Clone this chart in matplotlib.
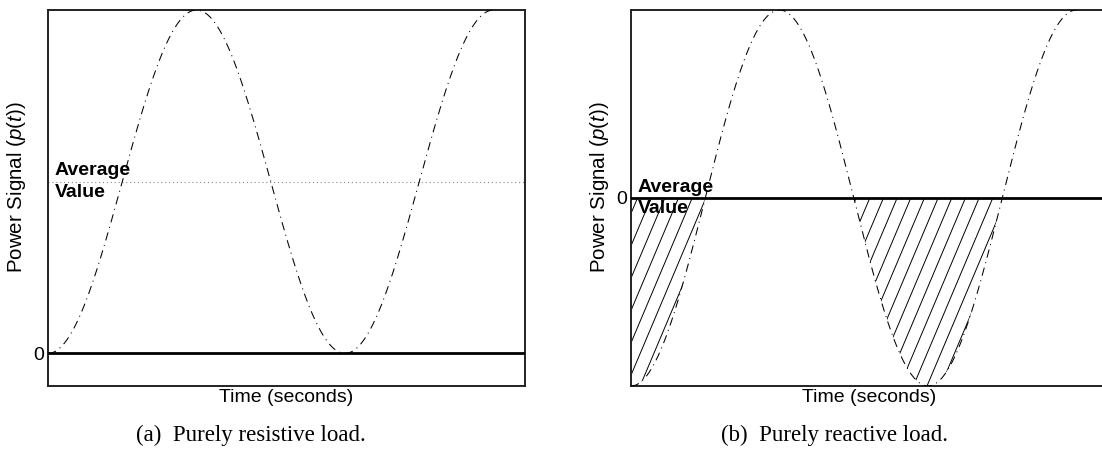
import numpy as np
import matplotlib
matplotlib.use("Agg")
import matplotlib.pyplot as plt
from matplotlib.path import Path
from matplotlib.collections import LineCollection

plt.rcParams["font.family"] = ["Liberation Sans", "DejaVu Sans"]
plt.rcParams["mathtext.fontset"] = "custom"
plt.rcParams["mathtext.rm"] = "Liberation Sans"
plt.rcParams["mathtext.it"] = "Liberation Sans:italic"

# Signal description, time measured in periods of p(t)
captions = ["(a)  Purely resistive load.", "(b)  Purely reactive load."]
offsets = [1.0, 0.0]        # mean level of p(t)
amplitudes = [1.0, 1.0]
avg_values = [1.0, 0.0]     # "Average Value" line
ylims = [(-0.19, 2.0), (-1.0, 1.0)]
hatched = [False, True]     # shade negative power
t_end = 1.5                 # curve stops at the second peak
x_max = 1.606

W, H = 1102, 457
fig = plt.figure(figsize=(W / 100, H / 100), dpi=100)
lefts = [48, 631]
caption_x = [136, 721]
axes = [fig.add_axes([l / W, 1 - 386 / H, 477 / W, 376 / H]) for l in lefts]

t = np.linspace(0, t_end, 600)
curve_style = (0, (8, 4.5, 1, 4.5))

for i, ax in enumerate(axes):
    p = offsets[i] - amplitudes[i] * np.cos(2 * np.pi * t)
    ax.plot(t, p, color="black", lw=0.75, linestyle=curve_style, zorder=3)
    ax.axhline(0, color="black", lw=2.0, zorder=4)
    if avg_values[i] != 0:
        ax.axhline(avg_values[i], color="#888888", lw=0.8,
                   linestyle=(0, (1, 2.5)), zorder=2)

    if hatched[i]:
        region = ax.fill_between(t, p, 0, where=p < 0, interpolate=True,
                                 facecolor="none", edgecolor="none")
        clip = Path.make_compound_path(*region.get_paths())
        # steep hatch lines, clipped to the negative-power area
        tops = np.arange(-0.3, x_max + 0.3, 0.046)
        run = 1 / 3.74
        segs = [[(x0 - run, -1.0), (x0, 0.0)] for x0 in tops]
        lc = LineCollection(segs, colors="black", linewidths=0.7, zorder=2)
        ax.add_collection(lc)
        lc.set_clip_path(clip, ax.transData)

    ax.text(7 / 477, avg_values[i], "Average\nValue", transform=ax.get_yaxis_transform(),
            fontsize=14, fontweight="bold", va="center", ha="left",
            linespacing=1.35, zorder=5)

    ax.set_xlim(0, x_max)
    ax.set_ylim(*ylims[i])
    ax.set_xticks([])
    ax.set_yticks([0])
    ax.tick_params(axis="y", length=0, pad=3, labelsize=14)
    for s in ax.spines.values():
        s.set_linewidth(1.4)
        s.set_color("#222222")

    ax.set_ylabel(r"Power Signal ($p$($t$))", fontsize=14.8)
    ax.yaxis.set_label_coords(-20 / 477, 0.528)
    ax.set_xlabel("Time (seconds)", fontsize=14)
    ax.xaxis.set_label_coords(0.5, -3 / 376)

    fig.text(caption_x[i] / W, 1 - 435 / H, captions[i],
             family=["Liberation Serif", "DejaVu Serif"], fontsize=16.5,
             ha="left", va="center")

fig.savefig("out.png", dpi=100)
